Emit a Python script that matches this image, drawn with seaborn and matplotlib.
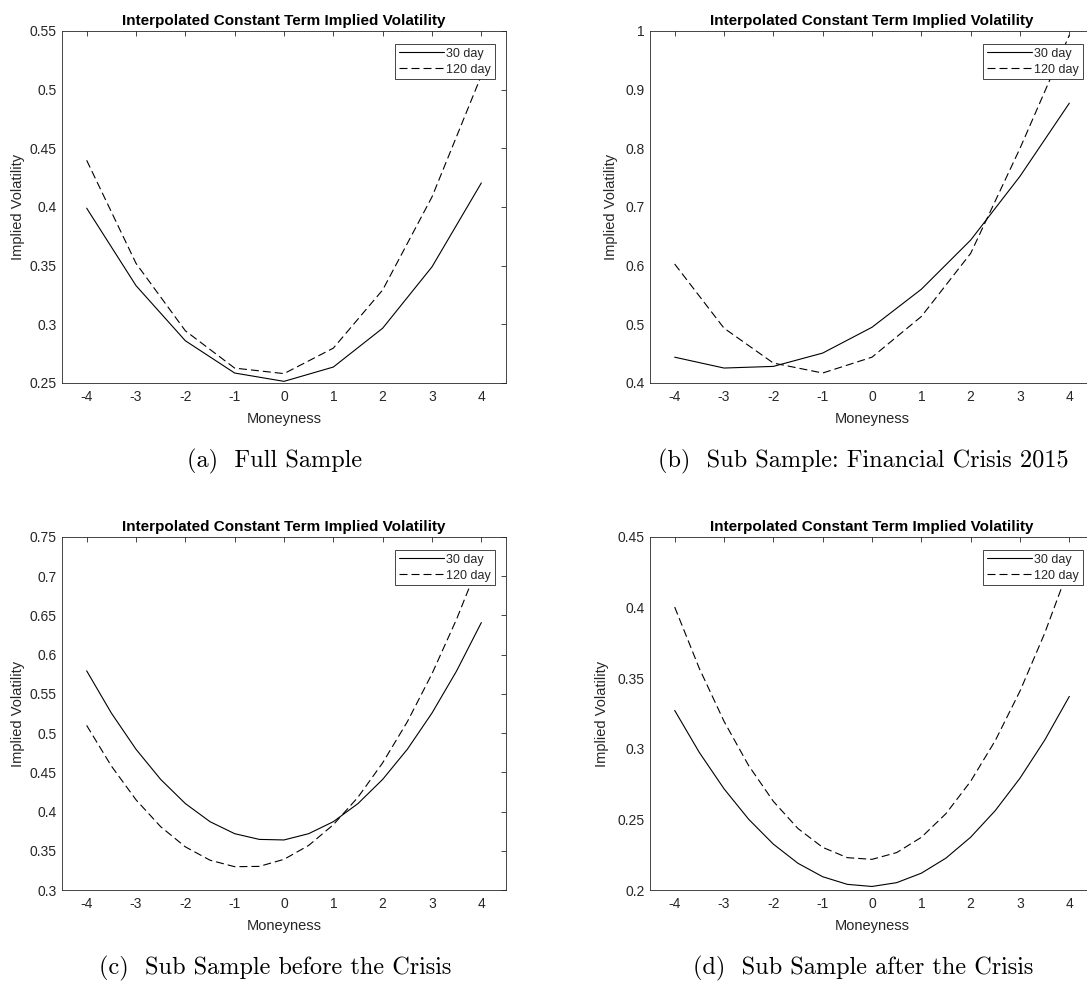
import matplotlib
matplotlib.use("Agg")
import matplotlib.pyplot as plt
from matplotlib.lines import Line2D
import seaborn as sns
import pandas as pd

# ---------------- data ----------------
moneyness_coarse = [-4, -3, -2, -1, 0, 1, 2, 3, 4]
moneyness_fine = [-4, -3.5, -3, -2.5, -2, -1.5, -1, -0.5, 0,
                  0.5, 1, 1.5, 2, 2.5, 3, 3.5, 4]

full_30 = [0.399, 0.333, 0.286, 0.2585, 0.2514, 0.2636, 0.2967, 0.349, 0.4205]
full_120 = [0.4398, 0.352, 0.2945, 0.2627, 0.258, 0.2797, 0.3293, 0.4086, 0.512]

crisis_30 = [0.444, 0.4255, 0.4283, 0.451, 0.495, 0.5598, 0.6436, 0.7524, 0.877]
crisis_120 = [0.6028, 0.4935, 0.434, 0.417, 0.444, 0.5133, 0.621, 0.800, 0.993]

before_30 = [0.5794, 0.5256, 0.4794, 0.4410, 0.4102, 0.3871, 0.3718, 0.3645, 0.3638,
             0.3718, 0.3871, 0.4102, 0.4410, 0.4794, 0.5256, 0.5794, 0.6409]
before_120 = [0.5098, 0.4581, 0.4150, 0.3807, 0.3550, 0.3380, 0.3297, 0.3301, 0.3391,
              0.3568, 0.3832, 0.4183, 0.4621, 0.5145, 0.5757, 0.6455, 0.7240]

after_30 = [0.3272, 0.2974, 0.2717, 0.2501, 0.2325, 0.2189, 0.2094, 0.2040, 0.2025,
            0.2052, 0.2119, 0.2226, 0.2374, 0.2563, 0.2792, 0.3061, 0.3371]
after_120 = [0.4004, 0.3569, 0.3195, 0.2881, 0.2628, 0.2435, 0.2302, 0.2229, 0.2217,
             0.2265, 0.2373, 0.2541, 0.2770, 0.3059, 0.3409, 0.3818, 0.4289]

series_names = ["30 day", "120 day"]
x_ticks = [-4, -3, -2, -1, 0, 1, 2, 3, 4]
x_tick_labels = ["-4", "-3", "-2", "-1", "0", "1", "2", "3", "4"]

yticks_a = [0.25, 0.3, 0.35, 0.4, 0.45, 0.5, 0.55]
ylabels_a = ["0.25", "0.3", "0.35", "0.4", "0.45", "0.5", "0.55"]
yticks_b = [0.4, 0.5, 0.6, 0.7, 0.8, 0.9, 1.0]
ylabels_b = ["0.4", "0.5", "0.6", "0.7", "0.8", "0.9", "1"]
yticks_c = [0.3, 0.35, 0.4, 0.45, 0.5, 0.55, 0.6, 0.65, 0.7, 0.75]
ylabels_c = ["0.3", "0.35", "0.4", "0.45", "0.5", "0.55", "0.6", "0.65", "0.7", "0.75"]
yticks_d = [0.2, 0.25, 0.3, 0.35, 0.4, 0.45]
ylabels_d = ["0.2", "0.25", "0.3", "0.35", "0.4", "0.45"]

title_text = "Interpolated Constant Term Implied Volatility"
xlabel_text = "Moneyness"
ylabel_text = "Implied Volatility"
captions = ["(a)  Full Sample", "(b)  Sub Sample: Financial Crisis 2015",
            "(c)  Sub Sample before the Crisis", "(d)  Sub Sample after the Crisis"]

# ---------------- style ----------------
sns.set_style("white")
plt.rcParams["font.family"] = ["Liberation Sans", "DejaVu Sans"]
axis_gray = "#262626"
LW = 0.8
DASH = (7.2, 3.6)

W, H = 1087, 983
fig = plt.figure(figsize=(W / 100, H / 100), dpi=100)


def frac_rect(left_px, top_px, w_px, h_px):
    return [left_px / W, (H - top_px - h_px) / H, w_px / W, h_px / H]


panels = [
    dict(rect=frac_rect(62, 31, 444, 352), x=moneyness_coarse, y30=full_30, y120=full_120,
         ylim=(0.25, 0.55), yt=yticks_a, yl=ylabels_a, ylx=-0.098, cap=captions[0]),
    dict(rect=frac_rect(650, 31, 444, 352), x=moneyness_coarse, y30=crisis_30, y120=crisis_120,
         ylim=(0.4, 1.0), yt=yticks_b, yl=ylabels_b, ylx=-0.087, cap=captions[1]),
    dict(rect=frac_rect(62, 537, 444, 353), x=moneyness_fine, y30=before_30, y120=before_120,
         ylim=(0.3, 0.75), yt=yticks_c, yl=ylabels_c, ylx=-0.098, cap=captions[2]),
    dict(rect=frac_rect(650, 537, 444, 353), x=moneyness_fine, y30=after_30, y120=after_120,
         ylim=(0.2, 0.45), yt=yticks_d, yl=ylabels_d, ylx=-0.107, cap=captions[3]),
]

for p in panels:
    ax = fig.add_axes(p["rect"])
    n = len(p["x"])
    df = pd.DataFrame({
        "Moneyness": list(p["x"]) * 2,
        "IV": list(p["y30"]) + list(p["y120"]),
        "Maturity": [series_names[0]] * n + [series_names[1]] * n,
    })
    sns.lineplot(data=df, x="Moneyness", y="IV", style="Maturity",
                 style_order=series_names,
                 dashes={series_names[0]: "", series_names[1]: DASH},
                 color="black", linewidth=LW, estimator=None, ax=ax, legend=False)

    ax.set_xlim(-4.5, 4.5)
    ax.set_ylim(*p["ylim"])
    ax.set_xticks(x_ticks)
    ax.set_xticklabels(x_tick_labels)
    ax.set_yticks(p["yt"])
    ax.set_yticklabels(p["yl"])
    ax.tick_params(direction="in", top=True, right=True, length=3.6, width=0.6,
                   colors=axis_gray, labelsize=10, pad=4)
    ax.tick_params(axis="x", pad=5)
    for s in ax.spines.values():
        s.set_color(axis_gray)
        s.set_linewidth(0.6)

    ax.set_title(title_text, fontsize=11, fontweight="bold", pad=4, color="black")
    ax.set_xlabel(xlabel_text, fontsize=10.5, color=axis_gray)
    ax.set_ylabel(ylabel_text, fontsize=10.5, color=axis_gray)
    ax.xaxis.set_label_coords(0.5, -0.102)
    ax.xaxis.label.set_va("center")
    ax.yaxis.set_label_coords(p["ylx"], 0.5)
    ax.yaxis.label.set_va("center")

    handles = [Line2D([], [], color="black", linewidth=LW),
               Line2D([], [], color="black", linewidth=LW, dashes=DASH)]
    leg = ax.legend(handles, series_names, loc="upper right",
                    bbox_to_anchor=(1 - 11 / 444, 1 - 13 / 352), borderaxespad=0,
                    fontsize=9, handlelength=3.6, handletextpad=0.2,
                    borderpad=0.3, labelspacing=0.3, fancybox=False,
                    framealpha=1, edgecolor=axis_gray)
    leg.get_frame().set_linewidth(0.6)

    # caption below the subfigure
    r = p["rect"]
    cx = r[0] + r[2] / 2 - 9 / W
    cy = r[1] - 78 / H
    fig.text(cx, cy, p["cap"], ha="center", va="center", fontsize=17.5,
             family=["cmr10", "DejaVu Serif"], color="black")

fig.savefig("out.png", dpi=100)
